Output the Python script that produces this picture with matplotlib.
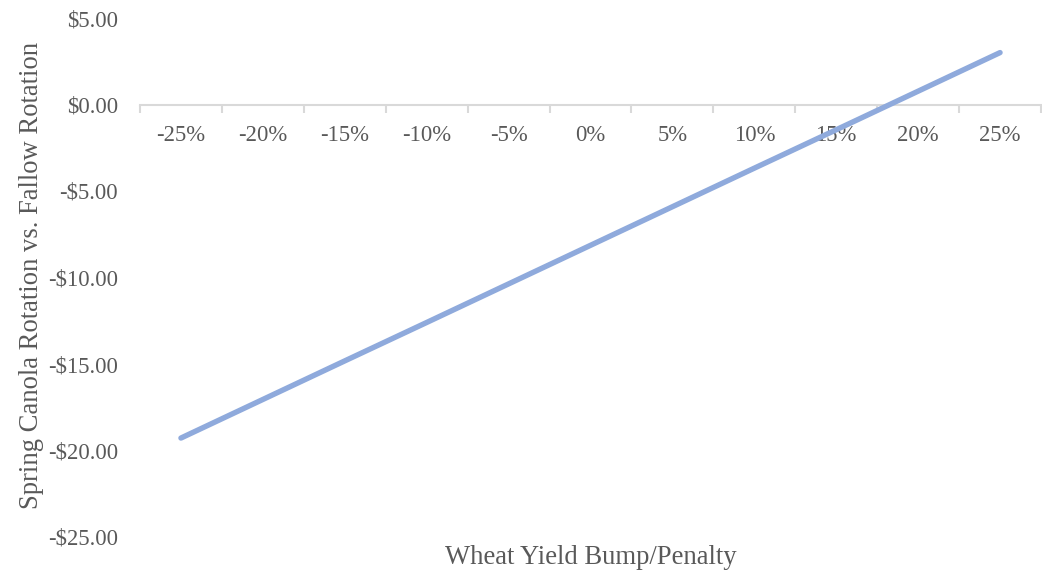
import matplotlib
matplotlib.use("Agg")
import matplotlib.pyplot as plt
import numpy as np

categories = ["-25%", "-20%", "-15%", "-10%", "-5%", "0%", "5%", "10%", "15%", "20%", "25%"]
values = [-19.28, -17.05, -14.82, -12.60, -10.37, -8.14, -5.91, -3.68, -1.46, 0.77, 3.00]
yticks = [5, 0, -5, -10, -15, -20, -25]
ytick_labels = ["$5.00", "$0.00", "-$5.00", "-$10.00", "-$15.00", "-$20.00", "-$25.00"]

plt.rcParams['font.family'] = ['Liberation Serif', 'DejaVu Serif']
text_color = "#595959"

fig = plt.figure(figsize=(10.42, 5.76), dpi=100)
ax = fig.add_axes([140/1042, 1-537/576, 901/1042, (537-18)/576])

x = np.arange(len(categories))
ax.plot(x, values, color="#8FAADC", lw=3.9, solid_capstyle="round", zorder=3)

ax.set_xlim(-0.5, len(categories) - 0.5)
ax.set_ylim(-25, 5)

for s in ["top", "right", "left"]:
    ax.spines[s].set_visible(False)
ax.spines["bottom"].set_position(("data", 0))
ax.spines["bottom"].set_color("#D9D9D9")
ax.spines["bottom"].set_linewidth(1.5)

ax.set_xticks(x)
ax.set_xticklabels(categories)
ax.set_xticks(np.arange(-0.5, len(categories)), minor=True)
ax.tick_params(axis="x", which="major", length=0, pad=15, labelsize=16.3, labelcolor=text_color)
ax.tick_params(axis="x", which="minor", length=6, width=1.5, color="#D9D9D9", direction="out")

ax.set_yticks(yticks)
ax.set_yticklabels(ytick_labels)
ax.tick_params(axis="y", length=0, pad=16, labelsize=16.3, labelcolor=text_color)

fig.text(32/1042, 1-275/576, "Spring Canola Rotation vs. Fallow Rotation", rotation=90,
         ha="center", va="center", fontsize=19.2, color=text_color)
fig.text(591/1042, 1-558/576, "Wheat Yield Bump/Penalty", ha="center", va="center",
         fontsize=19.2, color=text_color)

fig.savefig("out.png", dpi=100)
